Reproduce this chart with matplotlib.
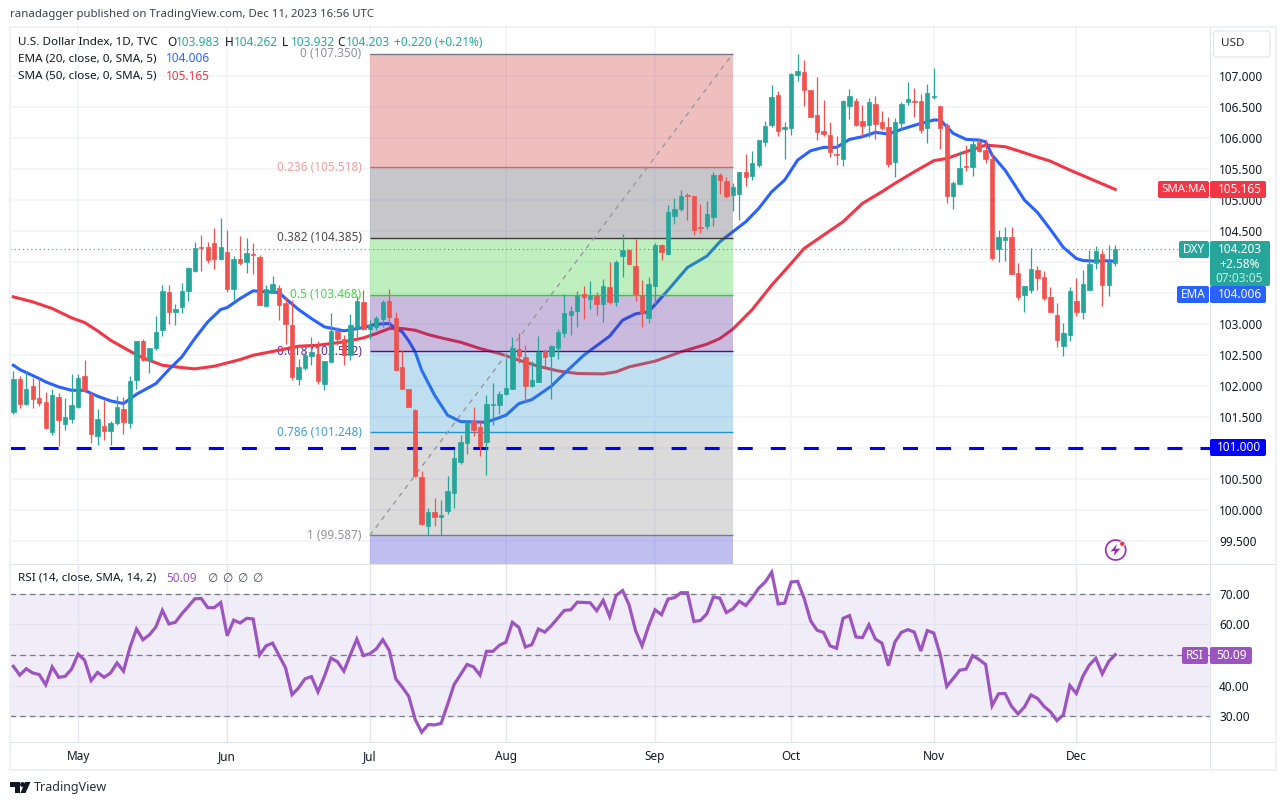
import matplotlib
matplotlib.use('Agg')
import matplotlib.pyplot as plt
from matplotlib.patches import Rectangle, FancyBboxPatch, Circle, Polygon

plt.rcParams['font.family'] = ['Noto Sans', 'DejaVu Sans']
plt.rcParams['lines.scale_dashes'] = False

W, H = 1284, 805

# daily candles
opens = [101.578, 102.105, 101.702, 101.992, 101.799, 101.734, 101.250, 101.815, 101.379, 101.460,
         101.664, 102.153, 101.863, 101.186, 101.347, 101.266, 101.395, 101.621, 101.395, 102.089,
         102.718, 102.422, 102.605, 102.895, 103.503, 103.186, 103.266, 103.530, 103.852, 104.234,
         104.234, 104.299, 104.041, 104.154, 103.557, 104.041, 103.992, 104.121, 104.073, 103.282,
         103.514, 103.583, 103.331, 102.976, 102.105, 102.282, 102.476, 102.508, 102.024, 102.379,
         102.879, 102.750, 102.492, 102.928, 103.347, 102.911, 102.949, 103.073, 103.363, 103.089,
         102.299, 101.944, 101.605, 100.524, 99.735, 99.960, 99.880, 99.977, 100.267, 100.767,
         101.073, 101.428, 101.331, 101.089, 101.686, 101.686, 101.863, 101.944, 102.589, 102.460,
         101.993, 102.057, 102.552, 102.476, 102.605, 102.847, 103.138, 103.202, 103.476, 103.396,
         103.444, 103.315, 103.589, 103.347, 104.089, 104.186, 103.928, 103.444, 103.089, 103.605,
         104.267, 104.121, 104.734, 104.847, 105.073, 105.057, 104.557, 104.573, 104.718, 105.396,
         105.299, 105.073, 105.089, 105.444, 105.380, 105.557, 105.928, 106.202, 106.686, 106.138,
         106.154, 107.009, 107.057, 106.767, 106.363, 106.105, 106.041, 105.734, 105.654, 106.509,
         106.589, 106.267, 106.202, 106.541, 106.251, 106.170, 105.606, 106.234, 106.573, 106.589,
         106.589, 106.154, 106.654, 106.509, 106.202, 105.057, 105.251, 105.541, 105.525, 105.928,
         105.799, 105.654, 104.202, 104.347, 104.395, 103.815, 103.460, 103.541, 103.863, 103.750,
         103.428, 103.138, 102.637, 102.815, 103.363, 103.186, 103.541, 103.976, 104.121, 103.621,
         103.983]
highs = [102.234, 102.153, 102.223, 102.132, 102.127, 101.906, 101.955, 101.890, 101.809, 102.186,
         102.196, 102.411, 101.906, 101.621, 101.766, 101.433, 101.842, 101.815, 102.153, 102.723,
         102.750, 102.605, 103.121, 103.621, 103.621, 103.315, 103.648, 103.917, 104.309, 104.428,
         104.310, 104.541, 104.702, 104.509, 104.089, 104.412, 104.380, 104.299, 104.105, 103.616,
         103.766, 103.621, 103.433, 103.379, 102.428, 102.573, 102.782, 102.718, 102.395, 103.170,
         102.949, 102.815, 103.153, 103.444, 103.540, 103.057, 103.121, 103.390, 103.567, 103.186,
         102.573, 101.955, 101.621, 100.621, 100.025, 100.186, 100.154, 100.541, 100.977, 101.202,
         101.412, 101.654, 101.444, 101.848, 102.041, 101.912, 102.444, 102.783, 102.847, 102.654,
         102.396, 102.799, 102.589, 102.654, 102.912, 103.471, 103.283, 103.525, 103.605, 103.686,
         103.509, 103.718, 103.993, 104.025, 104.444, 104.202, 104.363, 103.702, 103.751, 104.299,
         104.283, 104.912, 105.025, 105.154, 105.105, 105.057, 104.928, 104.976, 105.444, 105.423,
         105.358, 105.261, 105.444, 105.734, 105.783, 105.960, 106.267, 106.847, 106.750, 106.251,
         107.041, 107.347, 107.250, 106.767, 106.976, 106.605, 106.251, 106.025, 106.605, 106.783,
         106.638, 106.525, 106.638, 106.670, 106.428, 106.331, 106.315, 106.573, 106.896, 106.799,
         106.702, 106.863, 107.121, 106.509, 106.229, 105.299, 105.783, 105.880, 105.976, 105.993,
         105.960, 105.734, 104.508, 104.557, 104.557, 103.976, 103.605, 104.218, 103.928, 103.847,
         103.589, 103.331, 103.008, 103.589, 103.734, 103.863, 104.186, 104.250, 104.186, 104.266,
         104.262]
lows = [101.541, 101.643, 101.686, 101.643, 101.670, 101.309, 101.207, 101.024, 101.283, 101.401,
        101.637, 101.901, 101.078, 101.041, 101.121, 101.041, 101.363, 101.218, 101.315, 101.944,
        102.395, 102.202, 102.573, 102.799, 103.003, 102.976, 103.175, 103.363, 103.830, 103.853,
        103.971, 103.885, 104.025, 103.514, 103.379, 103.944, 103.820, 103.809, 103.298, 103.282,
        103.487, 103.057, 102.670, 102.089, 102.008, 102.250, 102.331, 102.035, 101.928, 102.379,
        102.653, 102.331, 102.411, 102.788, 102.895, 102.761, 102.895, 102.949, 102.949, 102.234,
        101.944, 101.653, 100.530, 99.750, 99.590, 99.735, 99.590, 99.928, 100.025, 100.735,
        100.896, 101.186, 100.864, 100.557, 101.364, 101.541, 101.847, 101.944, 102.363, 101.740,
        101.976, 102.057, 102.304, 101.783, 102.428, 102.783, 102.815, 102.944, 103.073, 103.234,
        103.138, 103.025, 103.315, 103.283, 103.751, 103.960, 103.364, 102.944, 103.009, 103.315,
        104.025, 104.105, 104.605, 104.815, 104.670, 104.428, 104.460, 104.525, 104.573, 105.089,
        105.025, 104.815, 104.670, 105.218, 105.315, 105.525, 105.863, 106.170, 106.025, 105.654,
        106.041, 106.912, 106.509, 106.331, 105.960, 106.025, 105.681, 105.557, 105.541, 106.299,
        106.186, 106.025, 106.009, 105.976, 106.122, 105.525, 105.363, 106.122, 106.525, 106.331,
        106.073, 105.912, 106.622, 105.815, 104.944, 104.847, 105.251, 105.460, 105.379, 105.767,
        105.589, 104.025, 103.998, 104.008, 103.799, 103.379, 103.186, 103.492, 103.541, 103.379,
        103.186, 102.621, 102.476, 102.718, 103.121, 103.073, 103.541, 103.879, 103.283, 103.444,
        103.932]
closes = [102.105, 101.713, 101.944, 101.782, 101.718, 101.315, 101.847, 101.444, 101.492, 101.686,
          102.121, 101.928, 101.223, 101.460, 101.266, 101.395, 101.653, 101.411, 102.073, 102.718,
          102.411, 102.605, 102.863, 103.524, 103.186, 103.229, 103.524, 103.901, 104.218, 104.213,
          104.025, 104.041, 104.234, 103.557, 104.041, 103.971, 104.138, 104.105, 103.298, 103.557,
          103.637, 103.298, 102.992, 102.137, 102.299, 102.492, 102.541, 102.073, 102.395, 102.879,
          102.750, 102.492, 102.976, 103.363, 102.911, 102.976, 103.089, 103.347, 103.105, 102.250,
          101.944, 101.653, 100.541, 99.767, 99.960, 99.880, 99.923, 100.299, 100.831, 101.089,
          101.412, 101.283, 101.025, 101.702, 101.702, 101.863, 101.960, 102.605, 102.476, 101.993,
          102.089, 102.541, 102.460, 102.638, 102.863, 103.170, 103.202, 103.444, 103.428, 103.444,
          103.315, 103.605, 103.347, 103.993, 104.186, 103.960, 103.476, 103.170, 103.638, 104.267,
          104.154, 104.799, 104.847, 105.057, 105.057, 104.509, 104.541, 104.767, 105.396, 105.315,
          105.057, 105.202, 105.444, 105.363, 105.589, 105.960, 106.186, 106.654, 106.105, 106.170,
          107.025, 107.073, 106.767, 106.331, 106.089, 106.057, 105.767, 105.718, 106.589, 106.670,
          106.202, 106.186, 106.573, 106.218, 106.154, 105.573, 106.251, 106.541, 106.622, 106.573,
          106.122, 106.718, 106.670, 106.154, 105.057, 105.267, 105.509, 105.525, 105.896, 105.783,
          105.654, 104.057, 104.395, 104.395, 103.799, 103.428, 103.605, 103.879, 103.734, 103.412,
          103.186, 102.734, 102.847, 103.524, 103.186, 103.637, 103.960, 104.170, 103.621, 103.992,
          104.203]

# moving averages, read at the bars where the curve bends
ema_bars = [0, 1, 4, 5, 7, 9, 11, 13, 15, 17, 19, 22, 24, 26, 28, 30, 32, 33, 35, 37, 39, 41, 42, 44, 46,
            48, 51, 54, 56, 58, 59, 60, 61, 62, 63, 65, 67, 69, 73, 76, 78, 80, 83, 85, 88, 92, 94, 96,
            98, 101, 104, 107, 109, 111, 113, 115, 117, 119, 121, 123, 125, 127, 129, 131, 133, 135,
            137, 139, 141, 142, 143, 145, 147, 149, 150, 151, 153, 154, 156, 158, 160, 162, 164, 165,
            167, 169, 170]
ema_vals = [102.331, 102.261, 102.116, 102.062, 101.981, 101.927, 101.927, 101.831, 101.756, 101.713,
            101.863, 102.035, 102.261, 102.465, 102.761, 103.03, 103.229, 103.261, 103.406, 103.53,
            103.514, 103.503, 103.406, 103.229, 103.083, 102.949, 102.885, 102.938, 102.992, 103.003,
            102.922, 102.869, 102.724, 102.546, 102.25, 101.847, 101.525, 101.423, 101.412, 101.525,
            101.713, 101.777, 101.993, 102.197, 102.492, 102.799, 103.057, 103.159, 103.191, 103.541,
            103.906, 104.089, 104.32, 104.482, 104.643, 104.858, 105.127, 105.315, 105.637, 105.788,
            105.842, 105.842, 105.971, 106.014, 106.084, 106.057, 106.132, 106.197, 106.256, 106.283,
            106.283, 106.068, 105.971, 105.96, 105.933, 105.718, 105.476, 105.315, 104.992, 104.793,
            104.519, 104.229, 104.051, 104.019, 104.008, 104.014, 104.006]
sma_bars = [0, 3, 6, 9, 11, 13, 15, 18, 20, 23, 26, 28, 31, 35, 37, 41, 44, 47, 51, 54, 56, 58, 60, 62,
            64, 66, 69, 72, 75, 78, 81, 84, 87, 91, 93, 95, 99, 103, 107, 109, 111, 114, 117, 120, 122,
            125, 128, 131, 134, 136, 139, 142, 144, 147, 150, 153, 155, 158, 160, 163, 170]
sma_vals = [103.433, 103.352, 103.245, 103.094, 103.019, 102.885, 102.734, 102.556, 102.449, 102.331,
            102.293, 102.272, 102.315, 102.422, 102.492, 102.573, 102.637, 102.653, 102.707, 102.771,
            102.841, 102.922, 102.922, 102.895, 102.825, 102.772, 102.702, 102.6, 102.519, 102.412,
            102.315, 102.24, 102.197, 102.191, 102.224, 102.304, 102.396, 102.546, 102.67, 102.761,
            102.912, 103.229, 103.621, 103.971, 104.213, 104.428, 104.643, 104.939, 105.127, 105.261,
            105.449, 105.627, 105.664, 105.772, 105.879, 105.853, 105.788, 105.685, 105.62, 105.476,
            105.165]

rsi_vals = [46.3, 43.4, 45.5, 44.1, 43.6, 40.2, 46.1, 42.7, 43.0, 45.4, 50.3, 48.3, 41.6, 44.3, 42.7,
            44.1, 47.4, 44.7, 52.5, 58.5, 55.0, 56.6, 59.2, 64.6, 60.2, 60.7, 63.5, 65.9, 68.4, 68.5,
            65.5, 65.5, 67.2, 56.3, 61.4, 60.5, 62.0, 61.8, 50.0, 53.0, 53.9, 49.8, 45.8, 37.0, 39.2,
            42.2, 42.9, 37.9, 43.0, 49.0, 47.8, 44.7, 50.1, 55.2, 49.8, 50.4, 52.0, 55.0, 51.5, 42.2,
            39.5, 36.5, 28.9, 24.7, 27.2, 27.1, 27.6, 33.8, 40.3, 43.6, 46.9, 46.1, 43.4, 51.2, 51.2,
            53.2, 54.2, 60.7, 59.0, 52.6, 53.4, 58.5, 57.5, 59.6, 62.1, 64.6, 64.8, 67.3, 67.2, 67.1,
            64.5, 67.9, 62.6, 69.5, 71.1, 66.4, 58.0, 53.0, 59.4, 64.8, 63.2, 68.3, 68.8, 70.4, 70.4,
            61.0, 61.3, 63.5, 69.0, 68.6, 63.9, 65.1, 67.6, 66.2, 68.8, 71.9, 73.9, 77.1, 66.7, 67.0,
            73.9, 74.1, 68.6, 61.2, 58.1, 57.4, 53.0, 52.2, 62.0, 62.9, 55.9, 55.7, 59.9, 55.2, 53.9,
            46.5, 54.2, 57.4, 58.3, 57.5, 51.3, 58.0, 57.2, 50.1, 39.7, 42.3, 45.0, 45.4, 49.8, 48.5,
            46.9, 33.4, 37.3, 37.4, 33.2, 30.7, 33.0, 36.9, 35.8, 33.2, 31.4, 28.5, 30.4, 40.0, 37.4,
            43.0, 46.7, 48.9, 43.8, 47.9, 50.09]

# fib retracement
fib_ratios = ['0', '0.236', '0.382', '0.5', '0.618', '0.786', '1']
fib_prices = [107.350, 105.518, 104.385, 103.468, 102.552, 101.248, 99.587]
fib_line_colors = ['#787b86', '#d06a6a', '#3a3a3a', '#33cc33', '#4a148c', '#2196d0', '#787b86']
fib_text_colors = ['#8f929b', '#eda0a0', '#4b4b4b', '#45d845', '#5b2a96', '#3f9fd8', '#8f929b']
fib_fill_colors = ['#cd2d2d', '#484855', '#2dcd2d', '#522094', '#2d94cd', '#8a8a8a', '#2d2dcd']

price_ticks = [99.5, 100, 100.5, 101, 101.5, 102, 102.5, 103, 103.5, 104, 104.5, 105, 105.5, 106, 106.5, 107]
# these sit behind the price tags in the original
hidden_prices = [101, 103.5, 104]
rsi_ticks = [30, 40, 50, 60, 70]
month_bars = [10, 33, 55, 76, 99, 120, 142, 164]
month_labels = ['May', 'Jun', 'Jul', 'Aug', 'Sep', 'Oct', 'Nov', 'Dec']

GREEN = '#26a69a'
RED = '#ef5350'
BLUE = '#2962ff'
MA_RED = '#f23645'
PURPLE = '#9c55c0'
TXT = '#131722'
GRID = '#f0f3fa'
AXCOL = '#e0e3eb'
FS = 8.5

fig = plt.figure(figsize=(W / 100, H / 100), dpi=100, facecolor='white')

ax = fig.add_axes([10 / W, 1 - 564 / H, 1200 / W, 536 / H])
ax2 = fig.add_axes([10 / W, 1 - 742 / H, 1200 / W, 178 / H])

x0 = (10 - 13.3) / 6.482
x1 = (1210 - 13.3) / 6.482
bars = list(range(len(closes)))

# price pane
ax.set_yticks(price_ticks)
ax.set_yticklabels(['' if p in hidden_prices else '%.3f' % p for p in price_ticks], fontsize=FS, color=TXT)
ax.yaxis.tick_right()
ax.tick_params(axis='y', length=0, pad=6.5)
ax.set_xticks(month_bars)
ax.tick_params(axis='x', length=0, labelbottom=False)
ax.grid(True, color=GRID, lw=1.1, zorder=0)
ax.set_axisbelow(True)
for s in ax.spines.values():
    s.set_visible(False)

# fib bands, over the moving averages but under the candles
fib_left, fib_right = 55, 111
band_edges = fib_prices + [99.127]
for i in range(len(fib_fill_colors)):
    ax.fill_between([fib_left, fib_right], band_edges[i], band_edges[i + 1],
                    color=fib_fill_colors[i], alpha=0.3, lw=0, zorder=2.5)
for i in range(len(fib_prices)):
    ax.plot([fib_left, fib_right], [fib_prices[i], fib_prices[i]], color=fib_line_colors[i],
            lw=1.0, zorder=2.6, solid_capstyle='butt')
    ax.annotate('%s (%.3f)' % (fib_ratios[i], fib_prices[i]), (fib_left, fib_prices[i]),
                xytext=(-6, 0), textcoords='offset points', ha='right', va='center',
                fontsize=FS, color=fib_text_colors[i], zorder=1.5)
ax.plot([fib_left, fib_right], [fib_prices[-1], fib_prices[0]], color='#9a9a9a', lw=1.0,
        dashes=(3.5, 3.5), zorder=2.6)

ax.plot(ema_bars, ema_vals, color=BLUE, lw=2.2, zorder=2.2, solid_joinstyle='round')
ax.plot(sma_bars, sma_vals, color=MA_RED, lw=2.2, zorder=2.1, solid_joinstyle='round')

# support line at 101
ax.plot([x0, x1], [101, 101], color='#0000ff', lw=2.2, dashes=(10.8, 13), dash_capstyle='butt', zorder=2.8)
# last price
ax.plot([x0, x1], [closes[-1], closes[-1]], color=GREEN, lw=0.8, dashes=(0.8, 2.2), zorder=2.7)

# candles
colors = [GREEN if c >= o else RED for o, c in zip(opens, closes)]
ax.vlines(bars, lows, highs, colors=colors, lw=0.9, zorder=3)
body_low = [min(o, c) for o, c in zip(opens, closes)]
body_h = [abs(o - c) for o, c in zip(opens, closes)]
ax.bar(bars, body_h, bottom=body_low, width=0.68, color=colors, edgecolor=colors, lw=0.5, zorder=3.1)
ax.set_xlim(x0, x1)
ax.set_ylim(99.127, 107.766)

# RSI pane
ax2.axhspan(30, 70, color='#7e57c2', alpha=0.1, lw=0, zorder=0.5)
ax2.set_yticks(rsi_ticks)
ax2.set_yticklabels(['' if r == 50 else '%.2f' % r for r in rsi_ticks], fontsize=FS, color=TXT)
ax2.yaxis.tick_right()
ax2.tick_params(axis='y', length=0, pad=6.5)
ax2.set_xticks(month_bars)
ax2.set_xticklabels(month_labels, fontsize=FS, color=TXT)
ax2.tick_params(axis='x', length=0, pad=5.5)
ax2.grid(True, color='#e6e3f0', lw=1.0, zorder=1)
ax2.set_axisbelow(True)
for level in [30, 50, 70]:
    ax2.plot([x0, x1], [level, level], color='#787b86', lw=0.9, dashes=(4, 3), zorder=1.5)
ax2.plot(bars, rsi_vals, color=PURPLE, lw=2.3, zorder=3, solid_joinstyle='miter')
ax2.set_xlim(x0, x1)
ax2.set_ylim(21.5, 79.8)
for s in ax2.spines.values():
    s.set_visible(False)

# overlay in image pixels: frame, tags, header and legend text
ov = fig.add_axes([0, 0, 1, 1], zorder=10)
ov.set_xlim(0, W)
ov.set_ylim(H, 0)
ov.axis('off')
ov.patch.set_alpha(0)


def box(x, y, w, h, color, rounded=False, **kw):
    if rounded:
        p = FancyBboxPatch((x, y), w, h, boxstyle='round,pad=0,rounding_size=2', fc=color, ec='none', **kw)
    else:
        p = Rectangle((x, y), w, h, fc=color, ec='none', **kw)
    ov.add_patch(p)


def label(x, y, s, color=TXT, size=FS, ha='left', **kw):
    ov.text(x, y, s, color=color, fontsize=size, ha=ha, va='center', **kw)


# frame and pane separators
box(9, 26, 1268, 2.2, '#f0f1f7')
box(9, 769, 1268, 2.2, '#f0f1f7')
box(9, 26, 1.5, 745, '#f0f1f7')
box(1274.5, 26, 2, 745, '#f0f1f7')
box(1210, 28, 1.1, 741, AXCOL)
box(10, 563.5, 1265, 1.1, AXCOL)
box(10, 741.5, 1265, 1.1, AXCOL)

label(10, 15, 'ranadagger published on TradingView.com, Dec 11, 2023 16:56 UTC', color='#3a3e4a', size=8.2)

# legend
label(18, 42, 'U.S. Dollar Index, 1D, TVC', size=8.4)
legend_x = [167, 225, 282, 337]
legend_k = ['O', 'H', 'L', 'C']
legend_v = ['103.983', '104.262', '103.932', '104.203']
for x, k, v in zip(legend_x, legend_k, legend_v):
    label(x, 42, k)
    label(x + 9, 42, v, color=GREEN)
label(394, 42, '+0.220 (+0.21%)', color=GREEN)
label(18, 59, 'EMA (20, close, 0, SMA, 5)', size=8.4)
label(166, 59, '%.3f' % ema_vals[-1], color=BLUE)
label(18, 76, 'SMA (50, close, 0, SMA, 5)', size=8.4)
label(166, 76, '%.3f' % sma_vals[-1], color=MA_RED)
label(18, 578, 'RSI (14, close, SMA, 14, 2)', size=8.4)
label(166, 578, '%.2f' % rsi_vals[-1], color=PURPLE)
for x in [207, 222, 237, 252]:
    label(x, 578, '\u2205', color='#4a4e5a')

# price tags
box(1158, 181, 51, 17, MA_RED, rounded=True)
box(1210, 181, 56, 17, MA_RED, rounded=True)
label(1183.5, 189.5, 'SMA:MA', color='white', ha='center', size=8.2)
label(1239.5, 189.5, '%.3f' % sma_vals[-1], color='white', ha='center')

box(1179, 241, 30, 17, GREEN, rounded=True)
box(1210, 241, 60, 45, GREEN, rounded=True)
label(1194, 249.5, 'DXY', color='white', ha='center')
label(1239.5, 249.5, '%.3f' % closes[-1], color='white', ha='center')
label(1239.5, 264, '+2.58%', color='white', ha='center')
label(1239.5, 278, '07:03:05', color='#c9e9e5', ha='center')

box(1177, 286, 32, 17, BLUE, rounded=True)
box(1210, 286, 56, 17, BLUE, rounded=True)
label(1193, 294.5, 'EMA', color='white', ha='center')
label(1239.5, 294.5, '%.3f' % ema_vals[-1], color='white', ha='center')

box(1210, 439, 56, 17, '#0000ff', rounded=True)
label(1239.5, 447.5, '101.000', color='white', ha='center')

box(1182, 647, 26, 17, PURPLE, rounded=True)
box(1210, 647, 42, 17, PURPLE, rounded=True)
label(1195, 655.5, 'RSI', color='white', ha='center')
label(1232, 655.5, '%.2f' % rsi_vals[-1], color='white', ha='center')

# currency button
ov.add_patch(FancyBboxPatch((1213.5, 31), 56.5, 26, boxstyle='round,pad=0,rounding_size=3',
                            fc='white', ec=AXCOL, lw=0.8))
label(1233, 44, 'USD', size=8.4, ha='center', color='#2a2e39')

# TradingView mark
ov.add_patch(Polygon([(10, 782), (20, 782), (20, 793), (15, 793), (15, 787), (10, 787)], fc='#131722', ec='none'))
ov.add_patch(Circle((22.5, 784.5), 2.4, fc='#131722', ec='none'))
ov.add_patch(Polygon([(25, 782), (30.5, 782), (25.5, 793), (20.5, 793)], fc='#131722', ec='none'))
label(34, 787.5, 'TradingView', size=9.0, color='#2a2e39')

# flash icon in the lower right of the price pane
ov.add_patch(Circle((1115.7, 550), 10, fc='none', ec='#9c27b0', lw=1.2))
ov.add_patch(Polygon([(1117, 544), (1110.5, 551.5), (1115, 551), (1113.5, 556), (1120.5, 548.5), (1115.5, 549)],
                     fc='#9c27b0', ec='none'))
ov.add_patch(Circle((1122.3, 543.7), 2.6, fc='#f23645', ec='white', lw=0.5))

fig.savefig('out.png', dpi=100, facecolor='white')
